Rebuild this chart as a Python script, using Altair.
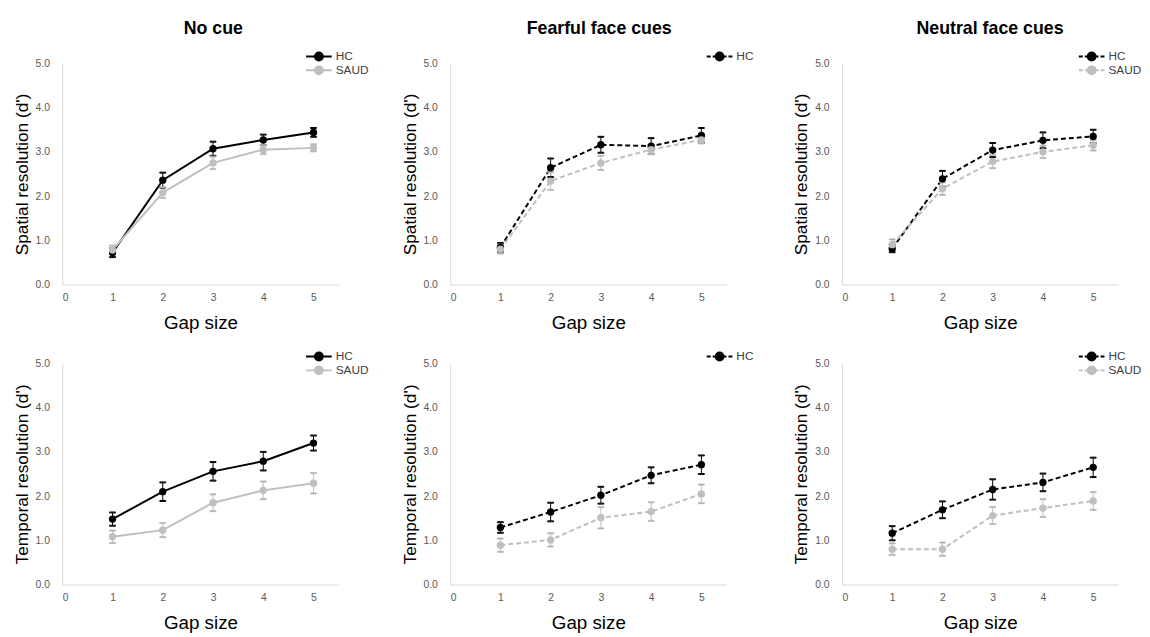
import altair as alt
import pandas as pd

gaps = [1, 2, 3, 4, 5]
groups = ["HC", "SAUD"]
col_titles = ["No cue", "Fearful face cues", "Neutral face cues"]
row_titles = ["Spatial resolution (d')", "Temporal resolution (d')"]
x_title = "Gap size"
y_ticks = [0, 1, 2, 3, 4, 5]
x_ticks = [0, 1, 2, 3, 4, 5]

# Spatial resolution
sp_nocue_hc = [0.72, 2.36, 3.07, 3.27, 3.44]
sp_nocue_hc_err = [0.10, 0.17, 0.16, 0.12, 0.10]
sp_nocue_saud = [0.78, 2.08, 2.75, 3.05, 3.09]
sp_nocue_saud_err = [0.10, 0.12, 0.14, 0.10, 0.08]

sp_fear_hc = [0.84, 2.64, 3.16, 3.13, 3.37]
sp_fear_hc_err = [0.10, 0.21, 0.18, 0.18, 0.17]
sp_fear_saud = [0.80, 2.34, 2.75, 3.05, 3.27]
sp_fear_saud_err = [0.10, 0.20, 0.16, 0.10, 0.08]

sp_neut_hc = [0.81, 2.39, 3.04, 3.26, 3.35]
sp_neut_hc_err = [0.08, 0.18, 0.16, 0.18, 0.15]
sp_neut_saud = [0.90, 2.17, 2.78, 3.00, 3.15]
sp_neut_saud_err = [0.12, 0.14, 0.15, 0.14, 0.12]

# Temporal resolution
tm_nocue_hc = [1.48, 2.10, 2.56, 2.79, 3.20]
tm_nocue_hc_err = [0.15, 0.21, 0.21, 0.21, 0.17]
tm_nocue_saud = [1.08, 1.23, 1.85, 2.13, 2.29]
tm_nocue_saud_err = [0.14, 0.16, 0.19, 0.20, 0.23]

tm_fear_hc = [1.29, 1.64, 2.02, 2.47, 2.71]
tm_fear_hc_err = [0.12, 0.21, 0.19, 0.18, 0.21]
tm_fear_saud = [0.89, 1.01, 1.51, 1.65, 2.05]
tm_fear_saud_err = [0.15, 0.15, 0.24, 0.21, 0.21]

tm_neut_hc = [1.16, 1.69, 2.15, 2.31, 2.65]
tm_neut_hc_err = [0.16, 0.19, 0.23, 0.20, 0.22]
tm_neut_saud = [0.80, 0.80, 1.56, 1.73, 1.89]
tm_neut_saud_err = [0.13, 0.15, 0.19, 0.20, 0.20]

FONT = "Liberation Sans"
COLORS = ["#000000", "#BFBFBF"]
W, H = 280, 224

# legend symbol paths (unit = 5 px with symbolSize 100)
CIRCLE = "M-0.8,0A0.8,0.8,0,1,1,0.8,0A0.8,0.8,0,1,1,-0.8,0Z"
SOLID_SYM = "M-2.6,0L2.6,0" + CIRCLE
DASH_SYM = "M-2.6,0L-1.8,0M-1.4,0L-0.8,0M0.8,0L1.4,0M1.8,0L2.6,0" + CIRCLE


def panel(hc, hc_err, saud, saud_err, ytitle, title=None, dashed=False,
          legend_values=None, title_dx=0, leg_x=253, leg_y=-13):
    rows = []
    for g, vals, errs in (("HC", hc, hc_err), ("SAUD", saud, saud_err)):
        for x, v, e in zip(gaps, vals, errs):
            rows.append({"gap": x, "group": g, "d": v, "lo": v - e, "hi": v + e})
    df = pd.DataFrame(rows)

    xscale = alt.Scale(domain=[0, 5.5], nice=False, zero=False)
    xaxis = alt.Axis(values=x_ticks, format="d", title=x_title, ticks=False,
                     grid=False, domainColor="#D9D9D9", labelColor="#595959",
                     labelFontSize=10.5, labelFont=FONT, labelPadding=8,
                     titleFont=FONT, titleFontSize=19, titleFontWeight="normal",
                     titleColor="#000000", titlePadding=11, orient="bottom")
    yscale = alt.Scale(domain=[0, 5], nice=False)
    yaxis = alt.Axis(values=y_ticks, format=".1f", title=ytitle, ticks=False,
                     grid=False, domainColor="#D9D9D9", labelColor="#595959",
                     labelFontSize=10.5, labelFont=FONT, labelPadding=13,
                     titleFont=FONT, titleFontSize=17.5, titleFontWeight="normal",
                     titleColor="#000000", titlePadding=4, orient="left")
    xenc = alt.X("gap:Q", scale=xscale, axis=xaxis)

    leg_kwargs = dict(title=None, orient="none", legendX=leg_x, legendY=leg_y,
                      symbolType=DASH_SYM if dashed else SOLID_SYM, symbolSize=100,
                      symbolStrokeWidth=2, symbolOpacity=1, labelFont=FONT,
                      labelFontSize=12, labelColor="#404040", labelOffset=11,
                      rowPadding=-8)
    if legend_values is not None:
        leg_kwargs["values"] = legend_values
    leg = alt.Legend(**leg_kwargs)
    stroke = alt.Stroke("group:N", scale=alt.Scale(domain=groups, range=COLORS), legend=leg)
    fill = alt.Fill("group:N", scale=alt.Scale(domain=groups, range=COLORS), legend=leg)

    base = alt.Chart(df)
    line_kw = dict(strokeWidth=2)
    if dashed:
        line_kw["strokeDash"] = [5, 3]
    line = base.mark_line(**line_kw).encode(
        x=xenc, y=alt.Y("d:Q", scale=yscale, axis=yaxis), stroke=stroke, order="gap:Q")
    rule = base.mark_rule(strokeWidth=1).encode(
        x=xenc, y=alt.Y("lo:Q", scale=yscale, axis=yaxis), y2="hi:Q", stroke=stroke)
    cap_lo = base.mark_tick(orient="horizontal", size=6, thickness=1, opacity=1).encode(
        x=xenc, y=alt.Y("lo:Q", scale=yscale, axis=yaxis), stroke=stroke)
    cap_hi = base.mark_tick(orient="horizontal", size=6, thickness=1, opacity=1).encode(
        x=xenc, y=alt.Y("hi:Q", scale=yscale, axis=yaxis), stroke=stroke)
    pts = base.mark_point(filled=True, size=55, opacity=1, strokeWidth=0).encode(
        x=xenc, y=alt.Y("d:Q", scale=yscale, axis=yaxis), fill=fill)
    ch = alt.layer(line, rule, cap_lo, cap_hi, pts).properties(
        width=W, height=H, view=alt.ViewBackground(stroke=None, strokeOpacity=0))
    if title:
        ch = ch.properties(title=alt.TitleParams(title, font=FONT, fontSize=18,
                                                 fontWeight="bold", color="#000000",
                                                 anchor="middle", frame="group",
                                                 dx=title_dx, offset=13))
    return ch


def indep(c):
    return c.resolve_scale(stroke="independent", fill="independent").resolve_legend(
        stroke="independent", fill="independent")


def row(charts):
    left = indep(alt.hconcat(charts[0], charts[1], spacing=32))
    return indep(alt.hconcat(left, charts[2], spacing=39))


top = row([
    panel(sp_nocue_hc, sp_nocue_hc_err, sp_nocue_saud, sp_nocue_saud_err, row_titles[0],
          col_titles[0], False, None, 13, 254),
    panel(sp_fear_hc, sp_fear_hc_err, sp_fear_saud, sp_fear_saud_err, row_titles[0],
          col_titles[1], True, ["HC"], 11, 267),
    panel(sp_neut_hc, sp_neut_hc_err, sp_neut_saud, sp_neut_saud_err, row_titles[0],
          col_titles[2], True, None, 10, 247),
])

bottom = row([
    panel(tm_nocue_hc, tm_nocue_hc_err, tm_nocue_saud, tm_nocue_saud_err, row_titles[1],
          None, False, None, 0, 254),
    panel(tm_fear_hc, tm_fear_hc_err, tm_fear_saud, tm_fear_saud_err, row_titles[1],
          None, True, ["HC"], 0, 267),
    panel(tm_neut_hc, tm_neut_hc_err, tm_neut_saud, tm_neut_saud_err, row_titles[1],
          None, True, None, 0, 247),
])

chart = indep(alt.vconcat(top, bottom, spacing=18)).properties(
    padding={"top": 8, "left": 5, "right": 0, "bottom": 0}
).configure_view(stroke=None, strokeOpacity=0).configure_axis(
    grid=False).configure_axisTop(domain=False, labels=False).configure_axisRight(
    domain=False, labels=False).configure(
    background="white", style={"cell": {"stroke": "transparent"}})

chart.save("out.html", embed_options={"renderer": "svg", "actions": False})
